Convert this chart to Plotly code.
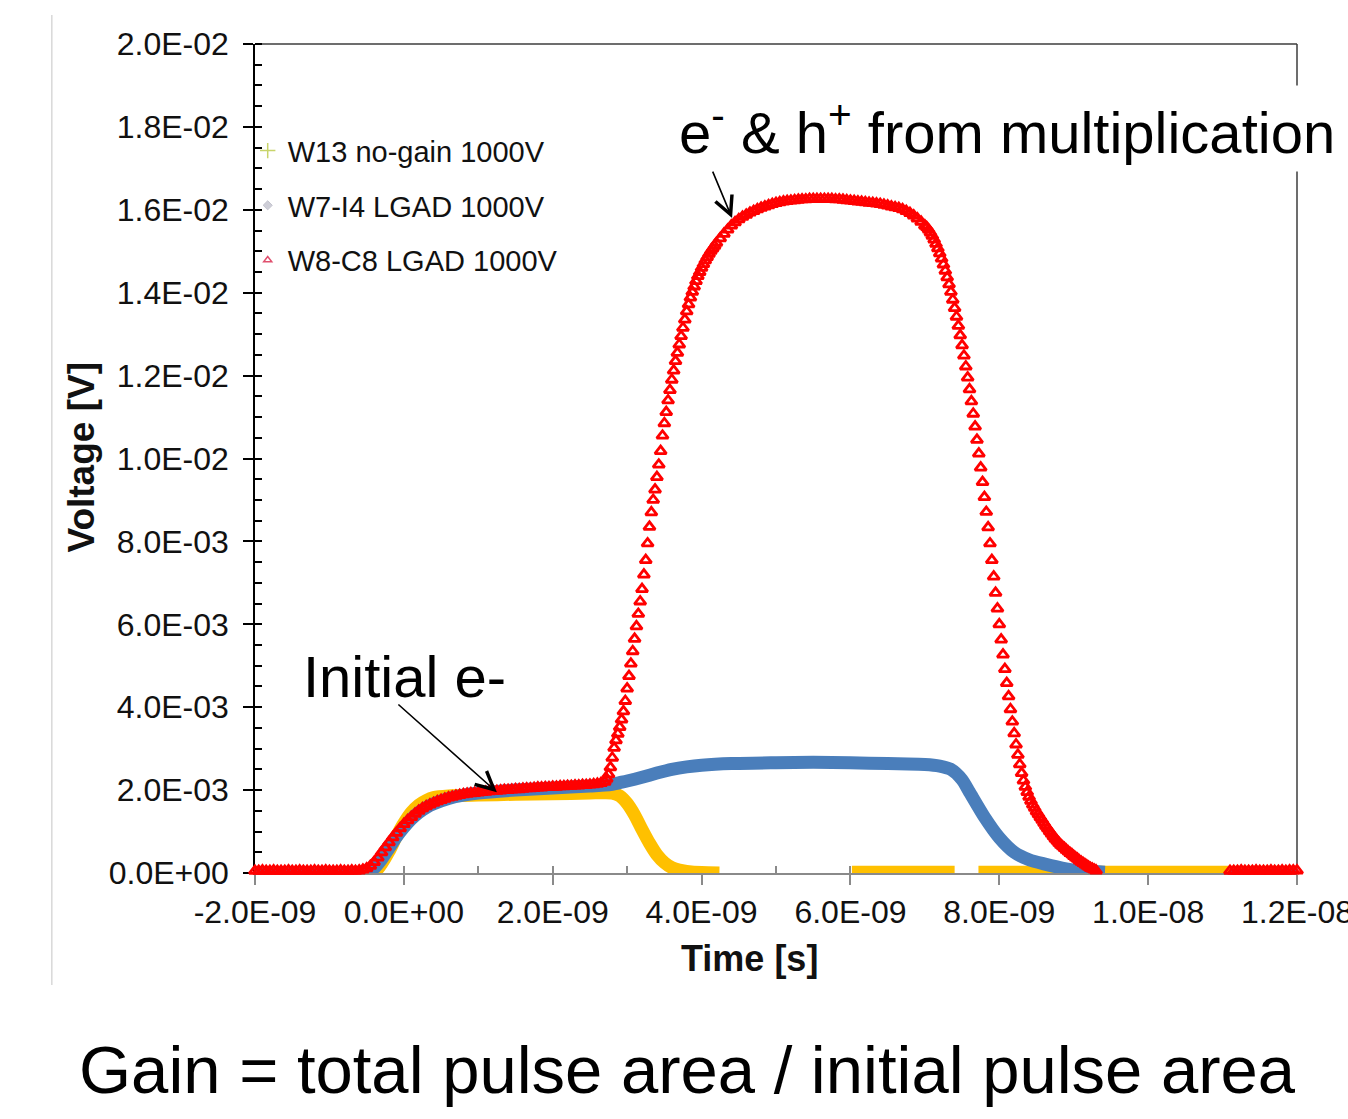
import plotly.graph_objects as go

FONT = "Liberation Sans, Arial, Helvetica, sans-serif"

# ---------------------------------------------------------------------------
# Waveforms: time in ns, amplitude in mV. None marks a gap in the record.
# ---------------------------------------------------------------------------

# W13 no-gain 1000V
w13_t_ns = [-2.0, -1.0, -0.45, -0.35, -0.3, -0.2, -0.1, 0.0, 0.1, 0.2, 0.3, 0.4,
            0.6, 1.0, 1.5, 2.0, 2.5, 2.8, 2.9, 3.0, 3.1, 3.2, 3.3, 3.4, 3.5, 3.6,
            3.7, 3.8, 4.0, 4.24, None, 6.02, 6.5, 7.0, 7.4, None, 7.72, 8.5, 9.5,
            10.5, 11.5, 12.0]
w13_mv = [0.0, 0.0, 0.0, 0.1, 0.22, 0.52, 0.88, 1.2, 1.46, 1.64, 1.75, 1.82,
          1.86, 1.88, 1.9, 1.91, 1.93, 1.93, 1.86, 1.68, 1.4, 1.05, 0.72, 0.44,
          0.25, 0.13, 0.07, 0.04, 0.01, 0.0, None, 0.02, 0.02, 0.02, 0.02, None,
          0.02, 0.02, 0.02, 0.02, 0.02, 0.02]

# W7-I4 LGAD 1000V
w7_t_ns = [-2.0, -1.5, -1.0, -0.6, -0.5, -0.4, -0.3, -0.2, -0.1, 0.0, 0.1, 0.2,
           0.3, 0.4, 0.6, 0.8, 1.0, 1.5, 2.0, 2.5, 2.7, 2.8, 2.9, 3.0, 3.2, 3.4,
           3.6, 3.8, 4.0, 4.4, 5.0, 5.5, 6.0, 6.5, 7.0, 7.2, 7.35, 7.5, 7.6, 7.8,
           8.0, 8.2, 8.4, 8.6, 8.9, 9.2, 9.42, None, 11.1, 11.5, 12.0]
w7_mv = [-0.03, -0.03, -0.03, -0.02, 0.02, 0.12, 0.33, 0.6, 0.87, 1.1, 1.3, 1.46,
         1.58, 1.67, 1.8, 1.88, 1.93, 2.0, 2.05, 2.1, 2.12, 2.14, 2.18, 2.22,
         2.31, 2.41, 2.5, 2.56, 2.6, 2.64, 2.66, 2.67, 2.66, 2.64, 2.62, 2.58,
         2.5, 2.25, 1.95, 1.35, 0.85, 0.5, 0.32, 0.22, 0.1, 0.04, 0.02, None,
         -0.08, -0.08, -0.08]

# W8-C8 LGAD 1000V, stored as sampled segments: (start ns, step ns, samples mV)
w8_seg1_start, w8_seg1_step = -2.0, 0.05
w8_seg1_mv = [0.05, 0.05, 0.06, 0.05, 0.05, 0.06, 0.05, 0.05, 0.05, 0.06,
              0.05, 0.05, 0.06, 0.05, 0.05, 0.05, 0.06, 0.05, 0.05, 0.06,
              0.05, 0.05, 0.05, 0.06, 0.05, 0.05, 0.06, 0.05,
              0.06, 0.08, 0.11, 0.17, 0.26, 0.37, 0.50, 0.62, 0.74, 0.86,
              0.97, 1.08, 1.18, 1.27, 1.35, 1.43, 1.50, 1.56, 1.61, 1.65,
              1.69, 1.73, 1.76, 1.79, 1.82, 1.84, 1.86, 1.88, 1.90, 1.91,
              1.92, 1.93, 1.94, 1.95, 1.96, 1.97, 1.98, 1.98, 1.99, 2.00,
              2.00, 2.01, 2.02, 2.02, 2.03, 2.04, 2.04, 2.05, 2.06, 2.06,
              2.07, 2.07, 2.08, 2.08, 2.09, 2.09, 2.10, 2.10, 2.11, 2.11,
              2.12, 2.12, 2.13, 2.14, 2.15, 2.17]
w8_seg2_start, w8_seg2_step = 2.7, 0.025
w8_seg2_mv = [2.20, 2.27, 2.38, 2.55, 2.78, 3.02, 3.20, 3.36, 3.52, 3.70,
              3.90, 4.15, 4.45, 4.75, 5.05, 5.35, 5.65, 5.95, 6.25, 6.55,
              6.85, 7.20, 7.55, 7.95, 8.35, 8.70, 9.00, 9.25, 9.55, 9.85,
              10.18, 10.55, 10.85, 11.12, 11.40, 11.65, 11.90, 12.12, 12.35, 12.55,
              12.75, 12.95, 13.15, 13.35, 13.55, 13.72, 13.88, 14.02, 14.15, 14.28,
              14.40, 14.50, 14.60, 14.69, 14.78, 14.86, 14.94, 15.01, 15.07, 15.13,
              15.20]
w8_seg3_start, w8_seg3_step = 4.25, 0.05
w8_seg3_mv = [15.31, 15.42, 15.52, 15.62, 15.70, 15.77, 15.83, 15.88, 15.93, 15.97,
              16.01, 16.05, 16.08, 16.11, 16.14, 16.16, 16.18, 16.20, 16.21, 16.22,
              16.23, 16.24, 16.25, 16.25, 16.26, 16.26, 16.26, 16.26, 16.26, 16.26,
              16.26, 16.25, 16.25, 16.24, 16.23, 16.22, 16.21, 16.20, 16.19, 16.18,
              16.17, 16.16, 16.15, 16.14, 16.12, 16.10, 16.08, 16.06, 16.04, 16.01,
              15.97, 15.92, 15.86, 15.79, 15.71, 15.62]
w8_seg4_start, w8_seg4_step = 7.025, 0.025
w8_seg4_mv = [15.58, 15.52, 15.45, 15.37, 15.28, 15.18, 15.07, 14.95, 14.82, 14.68,
              14.53, 14.37, 14.20, 14.02, 13.83, 13.63, 13.42, 13.20, 12.97, 12.73,
              12.48, 12.22, 11.95, 11.67, 11.38, 11.08, 10.77, 10.45, 10.12, 9.78,
              9.43, 9.07, 8.71, 8.34, 7.95, 7.55, 7.15, 6.76, 6.38, 6.00,
              5.63, 5.27, 4.92, 4.58, 4.26, 3.95, 3.65, 3.37, 3.10, 2.85,
              2.62, 2.41, 2.23, 2.08, 1.95, 1.84, 1.74, 1.65, 1.57, 1.49,
              1.42, 1.35, 1.28, 1.21, 1.14, 1.08, 1.01, 0.95, 0.89, 0.83,
              0.78, 0.73, 0.68, 0.64, 0.60, 0.56, 0.52, 0.48, 0.45, 0.41,
              0.37, 0.34, 0.30, 0.27, 0.24, 0.21, 0.18, 0.15, 0.12, 0.10,
              0.08, 0.06]
w8_seg5_start, w8_seg5_step = 11.1, 0.05
w8_seg5_mv = [0.05, 0.05, 0.05, 0.06, 0.05, 0.05, 0.05, 0.06, 0.05, 0.05,
              0.05, 0.06, 0.05, 0.05, 0.06, 0.05, 0.06, 0.06, 0.06]

# Axis ticks
x_tick_ns = [-2, 0, 2, 4, 6, 8, 10, 12]
x_tick_text = ["-2.0E-09", "0.0E+00", "2.0E-09", "4.0E-09", "6.0E-09",
               "8.0E-09", "1.0E-08", "1.2E-08"]
y_tick_mv = [0, 2, 4, 6, 8, 10, 12, 14, 16, 18, 20]
y_tick_text = ["0.0E+00", "2.0E-03", "4.0E-03", "6.0E-03", "8.0E-03", "1.0E-02",
               "1.2E-02", "1.4E-02", "1.6E-02", "1.8E-02", "2.0E-02"]

series_names = ["W13 no-gain 1000V", "W7-I4 LGAD 1000V", "W8-C8 LGAD 1000V"]


def seconds(ns_list):
    return [None if v is None else round(v * 1e-9, 15) for v in ns_list]


def volts(mv_list):
    return [None if v is None else round(v * 1e-3, 12) for v in mv_list]


def sample_times(start, step, samples):
    return [start + i * step for i in range(len(samples))]


w8_segments = [
    (w8_seg1_start, w8_seg1_step, w8_seg1_mv),
    (w8_seg2_start, w8_seg2_step, w8_seg2_mv),
    (w8_seg3_start, w8_seg3_step, w8_seg3_mv),
    (w8_seg4_start, w8_seg4_step, w8_seg4_mv),
    (w8_seg5_start, w8_seg5_step, w8_seg5_mv),
]
w8_t_ns, w8_mv = [], []
for start, step, samples in w8_segments:
    w8_t_ns += sample_times(start, step, samples)
    w8_mv += samples

fig = go.Figure()

# Data traces (drawn yellow, blue, then red on top)
fig.add_trace(go.Scatter(
    x=seconds(w13_t_ns), y=volts(w13_mv), mode="lines",
    line=dict(color="#FFC000", width=13, shape="spline", smoothing=0.7),
    cliponaxis=False, showlegend=False, hoverinfo="skip"))
fig.add_trace(go.Scatter(
    x=seconds(w7_t_ns), y=volts(w7_mv), mode="lines",
    line=dict(color="#4A7EBB", width=13, shape="spline", smoothing=0.7),
    cliponaxis=False, showlegend=False, hoverinfo="skip"))
fig.add_trace(go.Scatter(
    x=seconds(w8_t_ns), y=volts(w8_mv), mode="markers",
    marker=dict(symbol="triangle-up-open", size=10, color="#FF0000",
                line=dict(width=2.8, color="#FF0000")),
    cliponaxis=False, showlegend=False, hoverinfo="skip"))

# Legend entries
legend_styles = [
    dict(symbol="cross-thin-open", size=11, color="#C8D46A",
         line=dict(width=1.5, color="#C8D46A")),
    dict(symbol="diamond", size=7, color="#CFCFD8",
         line=dict(width=1, color="#C4C4CE")),
    dict(symbol="triangle-up-open", size=7, color="#E0506E",
         line=dict(width=1.5, color="#E0506E")),
]
for i, (name, mk) in enumerate(zip(series_names, legend_styles)):
    fig.add_trace(go.Scatter(
        x=[None], y=[None], mode="markers", name=name, marker=mk,
        legendgroup=f"g{i}", showlegend=True))

axis_common = dict(showgrid=False, zeroline=False, automargin=False,
                   layer="below traces", showline=True, ticks="outside",
                   ticklen=10, tickwidth=1.5, linewidth=1.5,
                   tickfont=dict(family=FONT, size=32, color="#111111"))

fig.update_layout(
    width=1348, height=1119,
    margin=dict(l=255, r=51, t=44, b=246),
    paper_bgcolor="white", plot_bgcolor="white",
    font=dict(family=FONT, color="#111111"),
    xaxis=dict(range=[-2e-9, 1.2e-8], tickmode="array",
               tickvals=seconds(x_tick_ns), ticktext=x_tick_text,
               ticklabeloverflow="allow",
               linecolor="#8A8A8A", tickcolor="#8A8A8A",
               minor=dict(dtick=1e-9, tick0=0, ticks="inside", ticklen=7,
                          tickwidth=1.5, tickcolor="#8A8A8A"),
               **axis_common),
    yaxis=dict(range=[0, 0.02], tickmode="array",
               tickvals=volts(y_tick_mv), ticktext=y_tick_text,
               linecolor="#000000", tickcolor="#000000",
               ticklabelstandoff=8,
               minor=dict(dtick=0.0005, tick0=0, ticks="inside", ticklen=7,
                          tickwidth=1.5, tickcolor="#000000"),
               **axis_common),
    legend=dict(x=-0.007, y=0.902, xanchor="left", yanchor="top",
                bgcolor="rgba(0,0,0,0)", traceorder="grouped",
                tracegroupgap=14, font=dict(family=FONT, size=29,
                                            color="#111111")),
    shapes=[
        # top and right frame lines
        dict(type="line", xref="paper", yref="paper", x0=0, x1=1, y0=1, y1=1,
             line=dict(color="#3C3C3C", width=1.5), layer="below"),
        dict(type="line", xref="paper", yref="paper", x0=1, x1=1, y0=0, y1=1,
             line=dict(color="#3C3C3C", width=1.5), layer="below"),
        # faint border at the left of the chart panel
        dict(type="line", xref="paper", yref="paper", x0=-0.195, x1=-0.195,
             y0=1.035, y1=-0.135, line=dict(color="#D8D8D8", width=1.5),
             layer="below"),
    ],
)

annotations = [
    dict(text="<b>Voltage [V]</b>", xref="paper", yref="paper", x=-0.1665,
         y=0.5018, textangle=-90, showarrow=False, xanchor="center",
         yanchor="middle", font=dict(family=FONT, size=37, color="#111111")),
    dict(text="<b>Time [s]</b>", xref="paper", yref="paper", x=0.4741,
         y=-0.1037, showarrow=False, xanchor="center", yanchor="middle",
         font=dict(family=FONT, size=36, color="#111111")),
    dict(text="Initial e-", xref="paper", yref="paper", x=0.1430, y=0.2365,
         showarrow=False, xanchor="center", yanchor="middle",
         font=dict(family=FONT, size=58, color="#000000")),
    dict(text="e<sup>-</sup> &amp; h<sup>+</sup> from multiplication",
         xref="paper", yref="paper", x=0.7217, y=0.8985, showarrow=False,
         xanchor="center", yanchor="middle", bgcolor="white", borderpad=6,
         font=dict(family=FONT, size=58, color="#000000")),
    dict(text="Gain = total pulse area / initial pulse area", xref="paper",
         yref="paper", x=0.4146, y=-0.2375, showarrow=False,
         xanchor="center", yanchor="middle",
         font=dict(family=FONT, size=67, color="#000000")),
    # pointer arrows
    dict(text="", x=1.25e-9, y=1.95e-3, xref="x", yref="y", ax=-100, ay=-89,
         showarrow=True, arrowhead=5, arrowsize=2.2, arrowwidth=1.6,
         arrowcolor="#000000", standoff=0),
    dict(text="", x=4.41e-9, y=15.8e-3, xref="x", yref="y", ax=-20, ay=-48,
         showarrow=True, arrowhead=5, arrowsize=2.2, arrowwidth=1.6,
         arrowcolor="#000000", standoff=0),
]
fig.update_layout(annotations=annotations)

fig.write_html("out.html")
